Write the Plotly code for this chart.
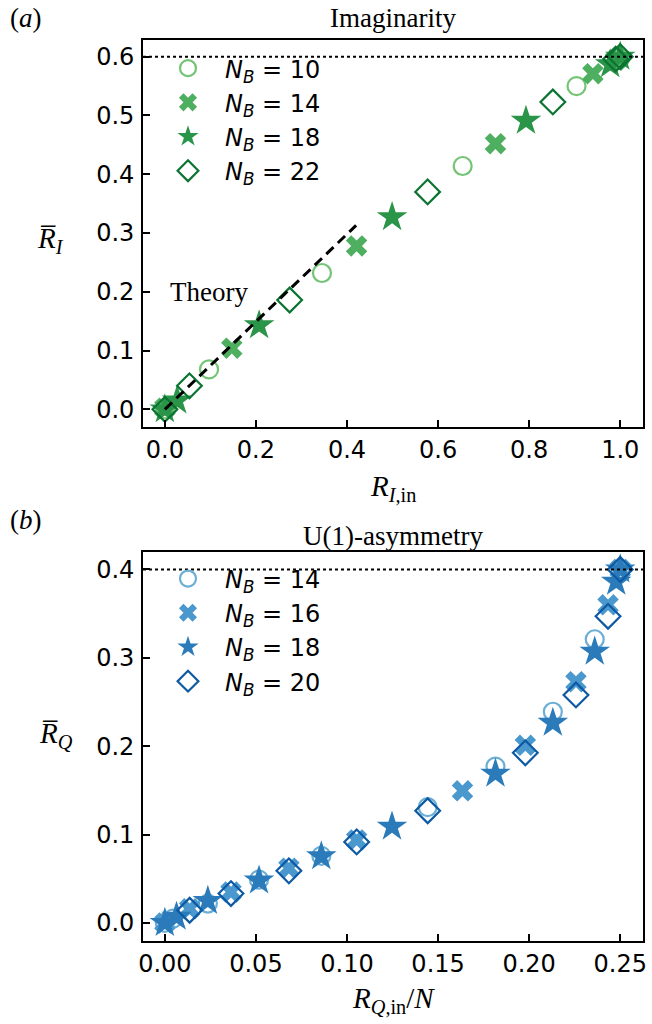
import plotly.graph_objects as go

# ---------------- data: panel (a) Imaginarity ----------------
a_x_10 = [0.0, 0.097, 0.345, 0.654, 0.904, 1.0]
a_y_10 = [0.0, 0.068, 0.232, 0.414, 0.550, 0.597]
a_x_14 = [0.0, 0.147, 0.421, 0.726, 0.940, 0.990]
a_y_14 = [0.002, 0.104, 0.278, 0.452, 0.571, 0.594]
a_x_18 = [0.0, 0.027, 0.207, 0.499, 0.793, 0.978, 1.0]
a_y_18 = [0.0, 0.015, 0.143, 0.327, 0.491, 0.587, 0.600]
a_x_22 = [0.0, 0.054, 0.274, 0.577, 0.852, 0.990, 1.0]
a_y_22 = [0.0, 0.040, 0.186, 0.370, 0.523, 0.596, 0.600]
theory_x = [0.0, 0.42]
theory_y = [0.0, 0.313]
a_limit = 0.6

# ---------------- data: panel (b) U(1)-asymmetry ----------------
b_x_14 = [0.0, 0.0045, 0.0236, 0.0517, 0.0859, 0.1443, 0.1815, 0.2130, 0.2360, 0.25]
b_y_14 = [0.0, 0.005, 0.022, 0.049, 0.076, 0.131, 0.177, 0.239, 0.321, 0.400]
b_x_16 = [0.0, 0.0136, 0.0363, 0.0681, 0.1053, 0.1634, 0.1979, 0.2257, 0.2433, 0.25]
b_y_16 = [0.0, 0.016, 0.035, 0.062, 0.094, 0.1495, 0.201, 0.273, 0.360, 0.400]
b_x_18 = [0.0, 0.0064, 0.0236, 0.0517, 0.0859, 0.1247, 0.1815, 0.2130, 0.2360, 0.2478, 0.25]
b_y_18 = [0.0, 0.007, 0.025, 0.048, 0.0755, 0.109, 0.169, 0.2265, 0.307, 0.386, 0.400]
b_x_20 = [0.0136, 0.0363, 0.0681, 0.1053, 0.1443, 0.1979, 0.2257, 0.2433, 0.25]
b_y_20 = [0.0144, 0.0333, 0.059, 0.0917, 0.127, 0.1925, 0.258, 0.347, 0.400]
b_limit = 0.4

a_xticks = [0.0, 0.2, 0.4, 0.6, 0.8, 1.0]
a_yticks = [0.0, 0.1, 0.2, 0.3, 0.4, 0.5, 0.6]
b_xticks = [0.0, 0.05, 0.10, 0.15, 0.20, 0.25]
b_yticks = [0.0, 0.1, 0.2, 0.3, 0.4]

greens = ["#74c476", "#4daf5f", "#2a9448", "#0b7432"]
blues = ["#6baed6", "#4a98cd", "#2b7bba", "#0d59a3"]

SANS = "DejaVu Sans"
SERIF = "Liberation Serif"


def nb(n):
    return "<i>N</i><sub><i>B</i></sub> = %d" % n


fig = go.Figure()


def add_series(x, y, name, color, symbol, size, xa, ya, leg, filled):
    marker = dict(symbol=symbol, size=size, color=color)
    if filled:
        marker["line"] = dict(width=0)
    else:
        marker["line"] = dict(width=2.2, color=color)
    fig.add_trace(go.Scatter(x=x, y=y, mode="markers", name=name, marker=marker,
                             xaxis=xa, yaxis=ya, legend=leg))


# panel (a)
add_series(a_x_10, a_y_10, nb(10), greens[0], "circle-open", 18, "x", "y", "legend", False)
add_series(a_x_14, a_y_14, nb(14), greens[1], "x", 19, "x", "y", "legend", True)
add_series(a_x_18, a_y_18, nb(18), greens[2], "star", 23, "x", "y", "legend", True)
add_series(a_x_22, a_y_22, nb(22), greens[3], "diamond-open", 19, "x", "y", "legend", False)
fig.add_trace(go.Scatter(x=theory_x, y=theory_y, mode="lines", showlegend=False,
                         line=dict(color="black", width=3, dash="10px,6px"),
                         xaxis="x", yaxis="y"))

# panel (b)
add_series(b_x_14, b_y_14, nb(14), blues[0], "circle-open", 18, "x2", "y2", "legend2", False)
add_series(b_x_16, b_y_16, nb(16), blues[1], "x", 19, "x2", "y2", "legend2", True)
add_series(b_x_18, b_y_18, nb(18), blues[2], "star", 23, "x2", "y2", "legend2", True)
add_series(b_x_20, b_y_20, nb(20), blues[3], "diamond-open", 19, "x2", "y2", "legend2", False)

axis_common = dict(showline=True, linecolor="black", linewidth=1.6, mirror=True,
                   ticks="inside", ticklen=7, tickwidth=1.5, tickcolor="black",
                   showgrid=False, zeroline=False,
                   tickfont=dict(family=SANS, size=24, color="black"))

fig.update_layout(
    width=652, height=1024,
    paper_bgcolor="white", plot_bgcolor="white",
    margin=dict(l=143, r=5, t=40, b=83),
    xaxis=dict(domain=[0, 1], anchor="y", range=[-0.048, 1.05], tickvals=a_xticks,
               tickformat=".1f", **axis_common),
    yaxis=dict(domain=[0.5705, 1], anchor="x", range=[-0.030, 0.6284], tickvals=a_yticks,
               tickformat=".1f", ticklabelstandoff=2, **axis_common),
    xaxis2=dict(domain=[0, 1], anchor="y2", range=[-0.012, 0.2625], tickvals=b_xticks,
                tickformat=".2f", **axis_common),
    yaxis2=dict(domain=[0, 0.432], anchor="x2", range=[-0.0204, 0.42], tickvals=b_yticks,
                tickformat=".1f", ticklabelstandoff=2, **axis_common),
    legend=dict(x=0.016, y=0.9933, xanchor="left", yanchor="top", bgcolor="rgba(0,0,0,0)",
                font=dict(family=SANS, size=24, color="black"), itemwidth=64,
                tracegroupgap=0),
    legend2=dict(x=0.016, y=0.4268, xanchor="left", yanchor="top", bgcolor="rgba(0,0,0,0)",
                 font=dict(family=SANS, size=24, color="black"), itemwidth=64,
                 tracegroupgap=0),
    showlegend=True,
)

# dotted limit lines
fig.add_shape(type="line", xref="x domain", yref="y", x0=0, x1=1, y0=a_limit, y1=a_limit,
              line=dict(color="black", width=2, dash="dot"))
fig.add_shape(type="line", xref="x2 domain", yref="y2", x0=0, x1=1, y0=b_limit, y1=b_limit,
              line=dict(color="black", width=2, dash="dot"))

serif = dict(family=SERIF, size=27, color="black")
lab = dict(family=SERIF, size=29, color="black")
ann = [
    dict(text="(<i>a</i>)", xref="paper", yref="paper", x=-0.270, y=1.0245,
         xanchor="left", yanchor="middle", font=serif),
    dict(text="Imaginarity", xref="paper", yref="paper", x=0.5, y=1.0245,
         xanchor="center", yanchor="middle", font=serif),
    dict(text="(<i>b</i>)", xref="paper", yref="paper", x=-0.270, y=0.467,
         xanchor="left", yanchor="middle", font=serif),
    dict(text="U(1)-asymmetry", xref="paper", yref="paper", x=0.5, y=0.450,
         xanchor="center", yanchor="middle", font=serif),
    dict(text="<i>R\u0305</i><sub><i>I</i></sub>", xref="paper", yref="paper", x=-0.185, y=0.778,
         xanchor="center", yanchor="middle", font=lab),
    dict(text="<i>R\u0305</i><sub><i>Q</i></sub>", xref="paper", yref="paper", x=-0.175, y=0.2286,
         xanchor="center", yanchor="middle", font=lab),
    dict(text="<i>R</i><sub><i>I</i>,in</sub>", xref="paper", yref="paper", x=0.5, y=0.5028,
         xanchor="center", yanchor="middle", font=lab),
    dict(text="<i>R</i><sub><i>Q</i>,in</sub>/<i>N</i>", xref="paper", yref="paper", x=0.5, y=-0.066,
         xanchor="center", yanchor="middle", font=lab),
    dict(text="Theory", xref="x", yref="y", x=0.098, y=0.20, xanchor="center", yanchor="middle",
         font=serif),
]
for a in ann:
    a["showarrow"] = False
    fig.add_annotation(**a)

# remove the default 8px page margin so the figure fills the window exactly
fig.write_html("out.html", config={"displayModeBar": False},
               post_script="document.body.style.margin='0';")
